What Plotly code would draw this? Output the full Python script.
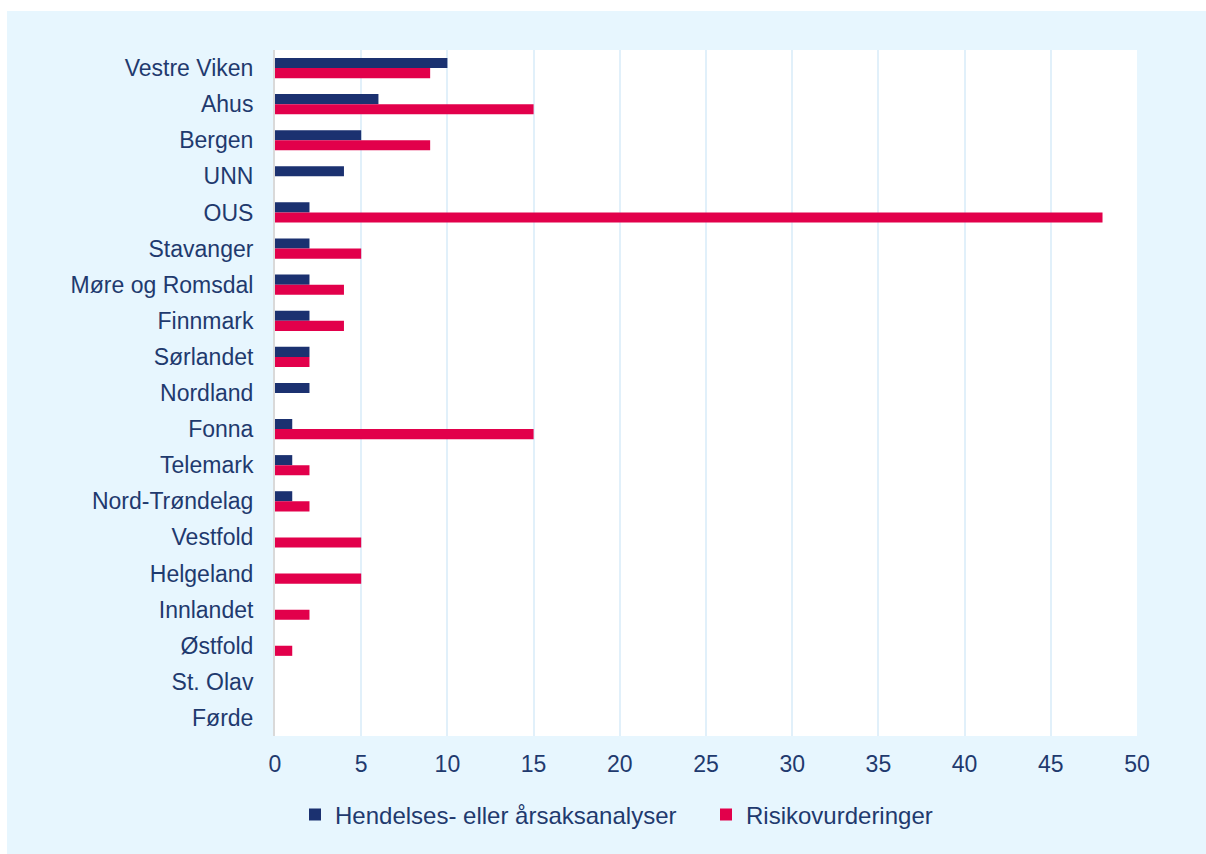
import plotly.graph_objects as go

categories = ["Vestre Viken", "Ahus", "Bergen", "UNN", "OUS", "Stavanger",
              "Møre og Romsdal", "Finnmark", "Sørlandet", "Nordland", "Fonna",
              "Telemark", "Nord-Trøndelag", "Vestfold", "Helgeland", "Innlandet",
              "Østfold", "St. Olav", "Førde"]
hendelses = [10, 6, 5, 4, 2, 2, 2, 2, 2, 2, 1, 1, 1, 0, 0, 0, 0, 0, 0]
risiko = [9, 15, 9, 0, 48, 5, 4, 4, 2, 0, 15, 2, 2, 5, 5, 2, 1, 0, 0]
x_ticks = list(range(0, 51, 5))

NAVY = "#1B3170"
RED = "#E2004B"
TXT = "#1F3A6E"
BG = "#E7F6FE"

fig = go.Figure()
fig.add_trace(go.Bar(y=categories, x=hendelses, orientation="h",
                     name="Hendelses- eller årsaksanalyser",
                     marker=dict(color=NAVY, line=dict(width=0))))
fig.add_trace(go.Bar(y=categories, x=risiko, orientation="h",
                     name="Risikovurderinger",
                     marker=dict(color=RED, line=dict(width=0))))

fig.update_layout(
    width=1206, height=854,
    margin=dict(l=275, r=69, t=50, b=118, autoexpand=False),
    paper_bgcolor=BG, plot_bgcolor="white",
    barmode="group", bargap=0.44, bargroupgap=0,
    font=dict(family="Liberation Sans, Arial", size=23, color=TXT),
    showlegend=True,
    legend=dict(orientation="h", xref="container", yref="container",
                x=295 / 1206, y=(854 - 815) / 854, xanchor="left", yanchor="middle",
                bgcolor="rgba(0,0,0,0)", font=dict(size=24, color=TXT),
                itemwidth=30, traceorder="normal", entrywidth=366, entrywidthmode="pixels"),
    shapes=[
        dict(type="rect", xref="paper", yref="paper", x0=-0.35, x1=1.1,
             y0=(736 - 11) / 686, y1=1.1, fillcolor="white", line=dict(width=0), layer="below"),
        dict(type="rect", xref="paper", yref="paper", x0=-0.35, x1=(7 - 275) / 862,
             y0=-0.2, y1=1.1, fillcolor="white", line=dict(width=0), layer="below"),
    ],
)
fig.update_xaxes(range=[0, 50], tickvals=x_ticks, showgrid=True, gridcolor="#E1F0FA",
                 gridwidth=1.5, zeroline=False, showline=False, ticks="",
                 ticklabelstandoff=12, tickfont=dict(size=23, color=TXT))
fig.update_yaxes(autorange="reversed", showgrid=False, showline=True,
                 linecolor="#D9D9D9", linewidth=2, ticks="",
                 ticklabelstandoff=15, tickfont=dict(size=23, color=TXT))

fig.write_html("out.html", config={"displayModeBar": False},
               post_script="document.body.style.margin='0';document.body.style.overflow='hidden';")
